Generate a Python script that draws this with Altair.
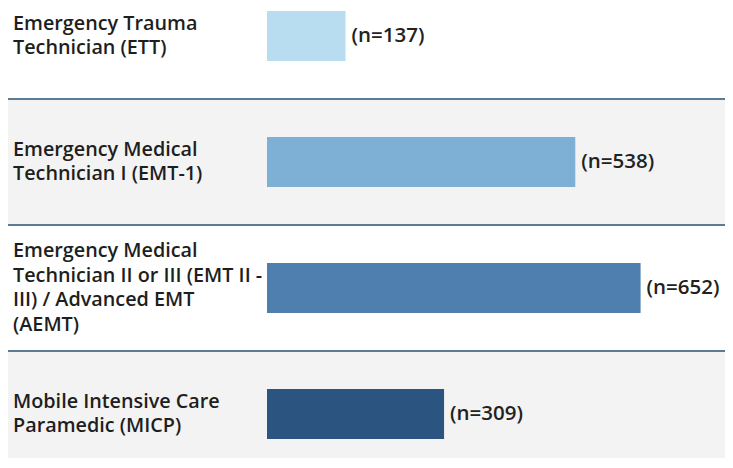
import altair as alt
import pandas as pd

categories = ["ETT", "EMT-1", "EMT II-III / AEMT", "MICP"]
labels = [
    "Emergency Trauma\nTechnician (ETT)",
    "Emergency Medical\nTechnician I (EMT-1)",
    "Emergency Medical\nTechnician II or III (EMT II -\nIII) / Advanced EMT\n(AEMT)",
    "Mobile Intensive Care\nParamedic (MICP)",
]
counts = [137, 538, 652, 309]
rows = [0, 1, 2, 3]

bar_colors = ["#b8dcf0", "#7eafd5", "#4e7fae", "#2b5580"]

df = pd.DataFrame({"cat": categories, "label": labels, "n": counts, "row": rows})
df["tag"] = ["(n=%d)" % c for c in counts]
df["nlines"] = [len(s.split("\n")) for s in labels]

W, H = 717, 450
ROW_PX = 126.0
TOP = 28.0
X0 = 259.0
PX_PER_UNIT = 0.573
LINE_H = 24.5
FONT = "Open Sans"
yscale = alt.Scale(domain=[-TOP / ROW_PX, (H - TOP) / ROW_PX], reverse=True,
                   nice=False, zero=False, padding=0)
xscale = alt.Scale(domain=[-X0 / PX_PER_UNIT, (W - X0) / PX_PER_UNIT],
                   nice=False, zero=False, padding=0)

base = alt.Chart(df)

bg = (
    base.transform_filter("datum.row % 2 == 1")
    .transform_calculate(y0="datum.row - 0.5", y1="datum.row + 0.5")
    .mark_rect(color="#f3f3f3")
    .encode(
        x=alt.value(0),
        x2=alt.value(W),
        y=alt.Y("y0:Q", scale=yscale, axis=None),
        y2="y1:Q",
    )
)

rules = (
    base.transform_filter("datum.row < 3")
    .transform_calculate(ys="datum.row + 0.5")
    .mark_rule(color="#5a7d95", strokeWidth=2)
    .encode(y=alt.Y("ys:Q", scale=yscale, axis=None))
)

bars = base.mark_bar(orient="horizontal", size=50).encode(
    x=alt.X("n:Q", scale=xscale, axis=None),
    y=alt.Y("row:Q", scale=yscale, axis=None),
    color=alt.Color("cat:N", scale=alt.Scale(domain=categories, range=bar_colors), legend=None),
)

values = base.mark_text(
    align="left", baseline="middle", dx=6, fontSize=20.5,
    font=FONT, fontWeight=600, color="#222222"
).encode(
    x=alt.X("n:Q", scale=xscale, axis=None),
    y=alt.Y("row:Q", scale=yscale, axis=None),
    text="tag:N",
)

names = (
    base.transform_calculate(ylab="datum.row - (datum.nlines - 1) * %f" % (LINE_H / 2 / ROW_PX))
    .mark_text(
        align="left", baseline="middle", lineBreak="\n", lineHeight=LINE_H,
        fontSize=19.8, font=FONT, fontWeight=600, color="#1e1e1e"
    )
    .encode(
        x=alt.value(5),
        y=alt.Y("ylab:Q", scale=yscale, axis=None),
        text="label:N",
    )
)

chart = (
    alt.layer(bg, rules, bars, values, names)
    .properties(width=W, height=H, padding=0, autosize=alt.AutoSizeParams(type="none"))
    .configure_view(stroke=None)
)

chart.save("out.html", embed_options={"renderer": "svg", "actions": False})
